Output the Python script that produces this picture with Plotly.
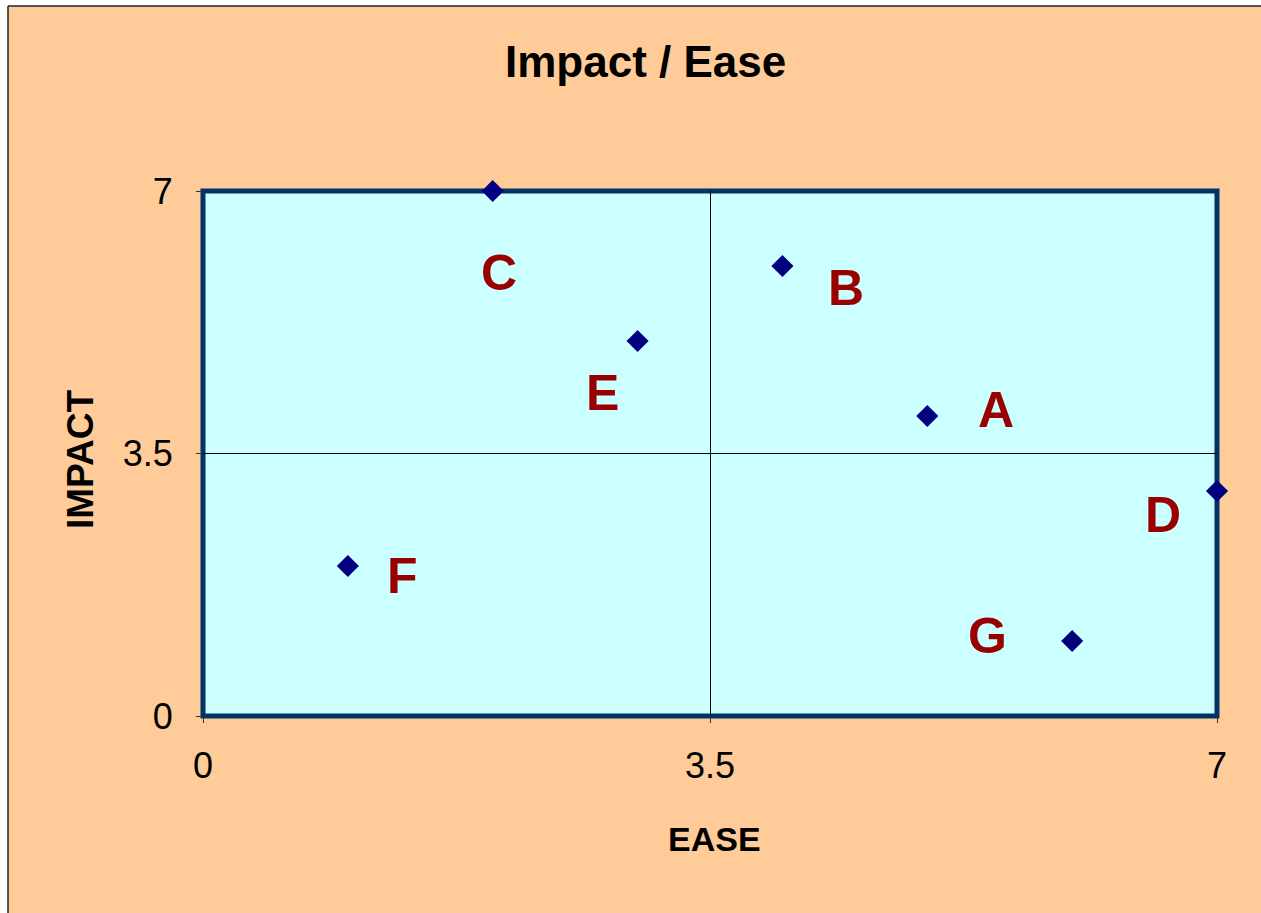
import plotly.graph_objects as go

# Impact / Ease matrix data
labels = ["A", "B", "C", "D", "E", "F", "G"]
ease = [5, 4, 2, 7, 3, 1, 6]
impact = [4, 6, 7, 3, 5, 2, 1]

# pixel offsets of each letter from its point (x right, y up)
label_dx = [69, 64, 6, -54, -35, 55, -85]
label_dy = [6, -22, -82, -24, -52, -10, 5]

axis_ticks = [0, 3.5, 7]
axis_ticktext = ["0", "3.5", "7"]

FONT = "Liberation Sans, Arial, sans-serif"
PEACH = "#FFCC99"
PLOT_BG = "#CCFFFF"
FRAME = "#003366"
MARKER = "#000080"
LABEL = "#990000"

W, H = 1261, 913
L, R, T, B = 203, 44, 191, 197
pw, ph = W - L - R, H - T - B


def px_x(p):
    return (p - L) / pw


def px_y(p):
    return (H - B - p) / ph


fig = go.Figure()
fig.add_trace(go.Scatter(
    x=ease, y=impact, mode="markers",
    marker=dict(symbol="diamond", size=17, color=MARKER, line=dict(width=0)),
    cliponaxis=False, hoverinfo="x+y",
))

annotations = []
for lab, xv, yv, dx, dy in zip(labels, ease, impact, label_dx, label_dy):
    annotations.append(dict(
        x=xv, y=yv, xref="x", yref="y", text=f"<b>{lab}</b>", showarrow=False,
        xshift=dx, yshift=dy,
        font=dict(family=FONT, size=50, color=LABEL),
    ))

annotations += [
    dict(text="<b>Impact / Ease</b>", x=px_x(645), y=px_y(61), xref="paper", yref="paper",
         showarrow=False, xanchor="center", yanchor="middle",
         font=dict(family=FONT, size=44, color="black")),
    dict(text="<b>EASE</b>", x=px_x(714), y=px_y(839), xref="paper", yref="paper",
         showarrow=False, xanchor="center", yanchor="middle",
         font=dict(family=FONT, size=34, color="black")),
    dict(text="<b>IMPACT</b>", x=px_x(80), y=px_y(460), xref="paper", yref="paper",
         showarrow=False, xanchor="center", yanchor="middle", textangle=-90,
         font=dict(family=FONT, size=37, color="black")),
]

shapes = [
    # white strips outside the chart frame, left and top
    dict(type="rect", xref="paper", yref="paper", x0=px_x(-20), x1=px_x(8), y0=px_y(940), y1=px_y(-20),
         fillcolor="white", line=dict(width=0), layer="above"),
    dict(type="rect", xref="paper", yref="paper", x0=px_x(-20), x1=px_x(1290), y0=px_y(6), y1=px_y(-20),
         fillcolor="white", line=dict(width=0), layer="above"),
    dict(type="line", xref="paper", yref="paper", x0=px_x(8), x1=px_x(8), y0=px_y(940), y1=px_y(6),
         line=dict(color="#222222", width=1.5), layer="above"),
    dict(type="line", xref="paper", yref="paper", x0=px_x(8), x1=px_x(1290), y0=px_y(6), y1=px_y(6),
         line=dict(color="#222222", width=1.5), layer="above"),
    # heavy plot-area frame
    dict(type="rect", xref="paper", yref="paper", x0=0, x1=1, y0=0, y1=1,
         line=dict(color=FRAME, width=5), fillcolor="rgba(0,0,0,0)", layer="below"),
]

axis_common = dict(
    range=[0, 7], tickmode="array", tickvals=axis_ticks, ticktext=axis_ticktext,
    showgrid=True, gridcolor="black", gridwidth=1, zeroline=False, showline=False,
    ticks="outside", ticklen=6, tickcolor="#333333", tickwidth=1,
    tickfont=dict(family=FONT, size=36, color="black"), fixedrange=True,
)

fig.update_layout(
    width=W, height=H,
    margin=dict(l=L, r=R, t=T, b=B, pad=0),
    paper_bgcolor=PEACH, plot_bgcolor=PLOT_BG,
    showlegend=False,
    xaxis=dict(**axis_common, ticklabelstandoff=12),
    yaxis=dict(**axis_common, ticklabelstandoff=16),
    annotations=annotations, shapes=shapes,
)

fig.write_html("out.html")
